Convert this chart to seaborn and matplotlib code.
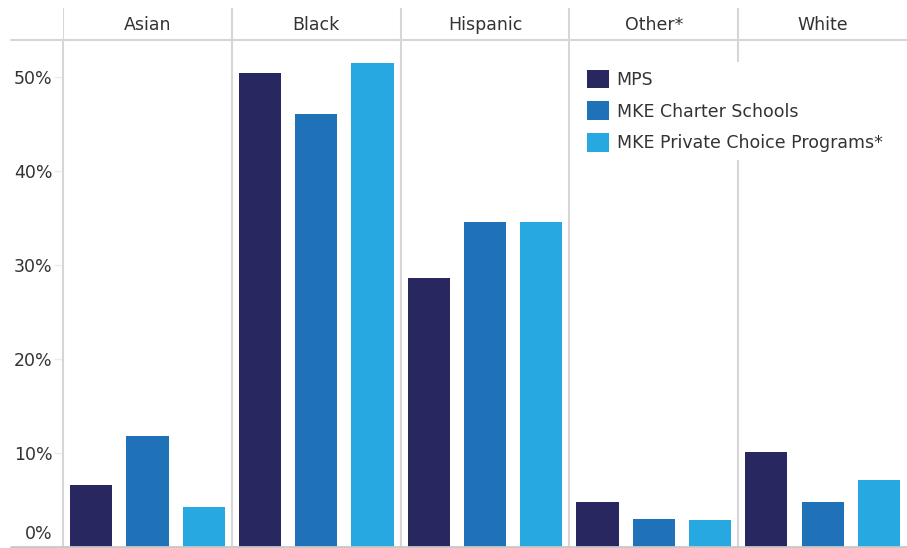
import numpy as np
import pandas as pd
import matplotlib
matplotlib.use("Agg")
import matplotlib.pyplot as plt
from matplotlib.lines import Line2D
from matplotlib.transforms import ScaledTranslation
import seaborn as sns

races = ["Asian", "Black", "Hispanic", "Other*", "White"]
groups = ["MPS", "MKE Charter Schools", "MKE Private Choice Programs*"]
mps = [6.6, 50.4, 28.6, 4.8, 10.1]
charter = [11.8, 46.0, 34.5, 3.0, 4.8]
private = [4.2, 51.5, 34.5, 2.9, 7.1]
colors = ["#29275f", "#2072b8", "#27a8e0"]
yticks = [0, 10, 20, 30, 40, 50]

df = pd.DataFrame({
    "race": races * 3,
    "group": [g for g in groups for _ in races],
    "pct": mps + charter + private,
})

sns.set_style("white")
plt.rcParams["font.family"] = ["DejaVu Sans"]
txt = "#333333"
grid = "#d6d6d6"
fs = 12.5

W, H = 907, 548
fig = plt.figure(figsize=(W / 100, H / 100), dpi=100)
ax = fig.add_axes([63 / W, 1 - 547 / H, 1 - 63 / W, (547 - 40) / H])
hax = fig.add_axes([63 / W, 1 - 40 / H, 1 - 63 / W, 32 / H])

sns.barplot(data=df, x="race", y="pct", hue="group", order=races,
            hue_order=groups, palette=colors, saturation=1, width=1.0,
            gap=0.25, linewidth=0, ax=ax)

ax.set_xlim(-0.5, len(races) - 0.5)
ax.set_ylim(0, 53.9)
ax.set_xlabel("")
ax.set_ylabel("")
ax.set_yticks(yticks)
ax.set_yticklabels([f"{t}%" for t in yticks])
ax.tick_params(axis="x", bottom=False, labelbottom=False)
ax.tick_params(axis="y", left=True, length=6.5, width=1, color="#ececec",
               pad=1, labelsize=fs, labelcolor=txt)
# 0% label sits a bit above the baseline
lab0 = ax.get_yticklabels()[0]
lab0.set_transform(lab0.get_transform() + ScaledTranslation(0, 10.8 / 72, fig.dpi_scale_trans))

for s in ["top", "right", "bottom"]:
    ax.spines[s].set_visible(False)
ax.spines["left"].set_color(grid)
ax.spines["left"].set_linewidth(1.5)
for i in range(len(races) - 1):
    ax.axvline(i + 0.5, color=grid, lw=1.5, zorder=0)

# header row
hax.set_xlim(-0.5, len(races) - 0.5)
hax.set_ylim(0, 1)
hax.axis("off")
for i, r in enumerate(races):
    hax.text(i, 0.47, r, ha="center", va="center", fontsize=fs, color=txt)
for i in range(len(races)):
    hax.axvline(i - 0.5, color=grid, lw=1.5)

fig.add_artist(Line2D([11 / W, 1], [1 - 40 / H] * 2, color=grid, lw=1.5))
fig.add_artist(Line2D([11 / W, 1], [1 - 547 / H] * 2, color="#c8c8c8", lw=2))

handles, labels = ax.get_legend_handles_labels()
leg = ax.legend(handles, labels, loc="upper left",
                bbox_to_anchor=(579 / W, 1 - 62 / H), bbox_transform=fig.transFigure,
                fontsize=fs, handlelength=1.27, handleheight=1.27,
                handletextpad=0.45, labelspacing=0.72, borderpad=0.45,
                borderaxespad=0, frameon=True, fancybox=False)
leg.get_frame().set_facecolor("white")
leg.get_frame().set_edgecolor("none")
leg.get_frame().set_alpha(1)
for t in leg.get_texts():
    t.set_color(txt)

fig.savefig("out.png", dpi=100)
